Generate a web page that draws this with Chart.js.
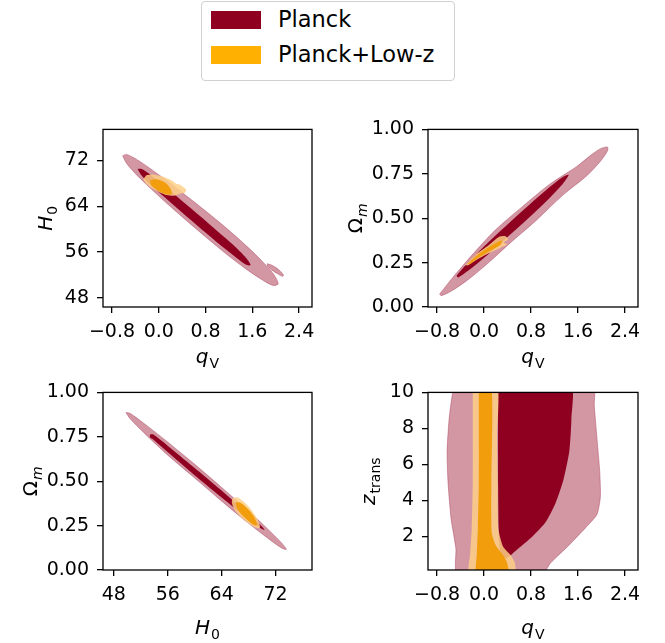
<!DOCTYPE html>
<html>
<head>
<meta charset="utf-8">
<script src="https://cdn.jsdelivr.net/npm/chart.js@4.4.1/dist/chart.umd.min.js"></script>
<style>
  body { margin: 0; background: #fff; width: 665px; height: 643px; position: relative; overflow: hidden; font-family: "DejaVu Sans", sans-serif; }
  canvas.panel { position: absolute; }
  #legend { position: absolute; left: 201px; top: 1px; width: 254px; height: 80px; border: 1px solid #d0d0d0; border-radius: 4px; box-sizing: border-box; }
  #legend .patch { position: absolute; left: 9px; width: 50px; height: 18px; }
  #legend .txt { position: absolute; left: 76px; font-size: 22.5px; line-height: 26px; white-space: nowrap; color: #000; }
</style>
</head>
<body>

<div id="legend">
  <div class="patch" id="patch0" style="top:9px"></div>
  <span class="txt" id="txt0" style="top:4px"></span>
  <div class="patch" id="patch1" style="top:44px"></div>
  <span class="txt" id="txt1" style="top:39px"></span>
</div>

<canvas id="c1" class="panel" width="330" height="269" style="left:0px;top:110px"></canvas>
<canvas id="c2" class="panel" width="335" height="269" style="left:330px;top:110px"></canvas>
<canvas id="c3" class="panel" width="330" height="269" style="left:0px;top:373px"></canvas>
<canvas id="c4" class="panel" width="335" height="269" style="left:330px;top:373px"></canvas>

<script>
// ------------------------------------------------------------------
// DATA: akser, ticks og konturer
// ------------------------------------------------------------------
var seriesNames = ['Planck', 'Planck+Low-z']

var qRange  = [-0.954, 2.62]
var h0Range = [46.4, 77.4]
var omRange = [0, 1]
var zRange  = [0.12, 10]

var qTicks  = [-0.8, 0.0, 0.8, 1.6, 2.4]
var h0Ticks = [48, 56, 64, 72]
var omTicks = [0, 0.25, 0.5, 0.75, 1]
var zTicks  = [2, 4, 6, 8, 10]

// panel 1: q_V vs H0
var qH0_planck95 = [[-0.618,72.82],[-0.549,73.03],[-0.378,72.16],[-0.150,70.59],[0.135,68.47],[0.476,65.77],[0.818,63.01],[1.160,60.13],[1.502,57.03],[1.787,54.18],[1.958,52.18],[2.043,50.45],
  [1.958,50.15],[1.787,51.02],[1.502,52.96],[1.160,55.61],[0.818,58.49],[0.476,61.47],[0.135,64.52],[-0.150,67.20],[-0.378,69.45],[-0.549,71.45]]
var qH0_planck95b = [[1.855,53.95],[1.929,53.72],[2.043,52.99],[2.129,52.03],[2.117,51.75],[2.043,52.14],[1.929,52.88],[1.861,53.55]]
var qH0_planck68 = [[-0.361,70.50],[-0.293,70.47],[-0.150,69.52],[0.135,67.16],[0.476,64.24],[0.818,61.28],[1.160,58.25],[1.388,56.10],[1.502,54.88],[1.570,53.72],
  [1.502,53.75],[1.388,54.52],[1.160,56.33],[0.818,59.24],[0.476,62.21],[0.135,65.24],[-0.150,67.83],[-0.293,69.34]]
var qH0_lowz95 = [[-0.264,68.69],[-0.207,69.43],[-0.094,69.54],[0.077,69.15],[0.220,68.53],[0.305,67.85],[0.362,67.73],[0.408,67.39],[0.465,66.94],[0.454,66.38],
  [0.362,66.15],[0.260,65.81],[0.135,65.93],[0.009,66.44],[-0.122,67.17],[-0.219,67.96]]
var qH0_lowz68 = [[-0.150,68.53],[-0.036,68.69],[0.106,68.13],[0.203,67.00],[0.220,66.15],[0.135,66.04],[0.009,66.59],[-0.122,67.56]]

// panel 2: q_V vs Omega_m
var qOm_planck95 = [[-0.756,0.073],[-0.497,0.180],[-0.152,0.312],[0.193,0.434],[0.652,0.565],[1.112,0.690],[1.572,0.790],[1.830,0.858],[1.974,0.890],[2.100,0.901],
  [2.100,0.879],[1.974,0.818],[1.744,0.738],[1.342,0.630],[0.882,0.486],[0.422,0.354],[0.078,0.250],[-0.267,0.155],[-0.555,0.090],[-0.727,0.064]]
var qOm_planck68 = [[-0.468,0.176],[-0.267,0.253],[0.078,0.366],[0.422,0.472],[0.767,0.575],[1.112,0.674],[1.342,0.732],[1.440,0.744],
  [1.342,0.694],[1.112,0.613],[0.767,0.504],[0.422,0.401],[0.078,0.299],[-0.267,0.205],[-0.440,0.166]]
var qOm_lowz95 = [[-0.325,0.235],[-0.152,0.293],[0.078,0.348],[0.250,0.394],[0.365,0.399],[0.411,0.381],[0.336,0.363],[0.394,0.352],[0.279,0.334],[0.078,0.302],[-0.152,0.260],[-0.267,0.235]]
var qOm_lowz68 = [[-0.279,0.242],[-0.095,0.297],[0.135,0.348],[0.307,0.374],[0.284,0.352],[0.078,0.312],[-0.124,0.271],[-0.238,0.242]]

// panel 3: H0 vs Omega_m
var h0Om_planck95 = [[49.80,0.887],[50.40,0.882],[52.39,0.828],[55.88,0.724],[59.88,0.599],[63.87,0.469],[67.86,0.336],[70.85,0.230],[72.85,0.154],[73.60,0.116],
  [72.85,0.125],[70.85,0.179],[67.86,0.267],[63.87,0.392],[59.88,0.522],[55.88,0.651],[52.39,0.776],[50.40,0.853]]
var h0Om_planck68 = [[53.39,0.764],[53.89,0.763],[56.88,0.672],[60.87,0.547],[64.87,0.418],[67.86,0.319],[69.86,0.249],[70.36,0.226],
  [69.86,0.234],[67.86,0.290],[64.87,0.382],[60.87,0.506],[56.88,0.635],[53.89,0.734],[53.39,0.746]]
var h0Om_lowz95 = [[65.61,0.403],[66.36,0.408],[67.86,0.363],[69.11,0.299],[69.71,0.244],[69.36,0.235],[68.36,0.253],[66.86,0.299],[65.86,0.344],[65.51,0.381]]
var h0Om_lowz68 = [[66.11,0.381],[66.86,0.377],[68.11,0.335],[68.96,0.289],[69.26,0.253],[68.76,0.253],[67.86,0.280],[66.86,0.317],[66.26,0.348]]

// panel 4: q_V vs z_trans
var qZ_planck95 = [[-0.497,10.5],[1.848,10.5],[1.876,9.24],[1.922,7.44],[1.968,5.64],[1.980,4.20],[1.922,3.21],[1.733,2.49],[1.445,1.50],[1.129,0.50],[0.986,-0.13],
  [-0.451,-0.13],[-0.480,1.32],[-0.560,2.94],[-0.612,4.92],[-0.629,6.72],[-0.595,8.52],[-0.537,9.96]]
var qZ_planck68 = [[0.239,10.5],[1.474,10.5],[1.486,8.52],[1.451,6.72],[1.348,5.10],[1.216,3.84],[1.043,2.76],[0.813,1.95],[0.555,1.23],[0.382,0.77],[0.296,0.86],[0.256,1.68],[0.239,4.92]]
var qZ_lowz95 = [[-0.193,10.5],[0.221,10.5],[0.221,7.62],[0.233,4.92],[0.244,2.40],[0.325,1.41],[0.451,0.95],[0.526,0.50],[0.520,-0.13],[-0.250,-0.13],[-0.238,0.95],[-0.210,2.40],[-0.193,4.92]]
var qZ_lowz68 = [[-0.089,10.5],[0.124,10.5],[0.124,4.92],[0.129,2.22],[0.198,1.50],[0.325,0.95],[0.394,0.50],[0.411,-0.13],[-0.124,-0.13],[-0.124,0.95],[-0.106,2.40],[-0.089,4.92]]

// farver
var planckDark  = 'rgb(143,0,32)'
var planckLight = 'rgb(211,150,163)'
var planckEdge  = 'rgba(165,60,90,0.55)'
var lowzDark    = 'rgb(242,158,12)'
var lowzLight   = 'rgba(253,207,135,0.85)'
var lowzLegend  = 'rgb(255,176,0)'

// ------------------------------------------------------------------
// LEGEND (HTML)
// ------------------------------------------------------------------
document.getElementById('patch0').style.background = planckDark
document.getElementById('patch1').style.background = lowzLegend
document.getElementById('txt0').textContent = seriesNames[0]
document.getElementById('txt1').textContent = seriesNames[1]

// ------------------------------------------------------------------
// HJÆLPERE
// ------------------------------------------------------------------
var tickFont = { family: 'DejaVu Sans', size: 19 }

function fmtQ(v) { var s = Math.abs(v).toFixed(1); return v < 0 ? '\u2212' + s : s }
function fmtInt(v) { return String(Math.round(v)) }
function fmtOm(v) { return v.toFixed(2) }

// lukket kontur -> dataset med fill 'shape'
function contour(pts, color, edge, tension) {
  var data = pts.map(p => ({ x: p[0], y: p[1] }))
  data.push({ x: pts[0][0], y: pts[0][1] })
  return {
    data: data,
    showLine: true,
    fill: 'shape',
    backgroundColor: color,
    borderColor: edge || 'rgba(0,0,0,0)',
    borderWidth: edge ? 0.8 : 0,
    pointRadius: 0,
    tension: tension
  }
}

// tegner label med (evt.) subscript
function drawLabel(ctx, lab, cx, cy, rot) {
  var size = 20, subSize = 14
  var f1 = (lab.mainItalic ? 'italic ' : '') + size + 'px "DejaVu Sans"'
  var f2 = (lab.subItalic ? 'italic ' : '') + subSize + 'px "DejaVu Sans"'
  ctx.font = f1
  var w1 = ctx.measureText(lab.main).width
  ctx.font = f2
  var w2 = ctx.measureText(lab.sub).width
  ctx.save()
  ctx.translate(cx, cy)
  ctx.rotate(rot)
  ctx.fillStyle = '#000'
  ctx.textBaseline = 'alphabetic'
  ctx.textAlign = 'left'
  var x0 = -(w1 + w2 + 1) / 2
  ctx.font = f1
  ctx.fillText(lab.main, x0, 0)
  ctx.font = f2
  ctx.fillText(lab.sub, x0 + w1 + 1, 4.5)
  ctx.restore()
}

// ramme + aksetitler
var axisTitles = {
  id: 'axisTitles',
  afterDraw(chart) {
    var o = chart.options.plugins.axisTitles
    var a = chart.chartArea
    var ctx = chart.ctx
    ctx.save()
    ctx.strokeStyle = '#000'
    ctx.lineWidth = 1.3
    ctx.strokeRect(a.left, a.top, a.right - a.left, a.bottom - a.top)
    ctx.restore()
    drawLabel(ctx, o.x, (a.left + a.right) / 2, a.bottom + o.xOff, 0)
    drawLabel(ctx, o.y, o.yPos, (a.top + a.bottom) / 2, -Math.PI / 2)
  }
}

function axis(range, ticks, fmt, isX, fitSize) {
  return {
    type: 'linear',
    min: range[0],
    max: range[1],
    afterBuildTicks: s => { s.ticks = ticks.map(v => ({ value: v })) },
    afterFit: s => { if (isX) s.height = fitSize; else s.width = fitSize },
    ticks: { callback: v => fmt(v), autoSkip: false, maxRotation: 0, minRotation: 0, font: tickFont, color: '#000', padding: isX ? 8 : 8 },
    grid: { drawOnChartArea: false, drawTicks: true, tickLength: 6, color: '#000', lineWidth: 1.3 },
    border: { display: false }
  }
}

function makePanel(id, xAx, yAx, layers, xLab, yLab, yPos, yWidth, padRight, xOff) {
  var datasets = layers.map((l, i) => {
    var d = contour(l[0], l[1], l[2], l[3])
    d.order = -i   // senere lag tegnes ovenpå
    return d
  })
  return new Chart(document.getElementById(id), {
    type: 'scatter',
    data: { datasets: datasets },
    plugins: [axisTitles],
    options: {
      responsive: false,
      animation: false,
      events: [],
      layout: { padding: { top: 14, right: padRight, left: 0, bottom: 0 } },
      plugins: {
        legend: { display: false },
        tooltip: { enabled: false },
        axisTitles: { x: xLab, y: yLab, yPos: yPos, xOff: xOff }
      },
      scales: {
        x: axis(xAx[0], xAx[1], xAx[2], true, 72),
        y: axis(yAx[0], yAx[1], yAx[2], false, yWidth)
      }
    }
  })
}

var labQ  = { main: 'q', mainItalic: true, sub: 'V', subItalic: false }
var labH0 = { main: 'H', mainItalic: true, sub: '0', subItalic: false }
var labOm = { main: '\u03A9', mainItalic: false, sub: 'm', subItalic: true }
var labZ  = { main: 'z', mainItalic: true, sub: 'trans', subItalic: false }

var qAx  = [qRange, qTicks, fmtQ]
var h0Ax = [h0Range, h0Ticks, fmtInt]
var omAx = [omRange, omTicks, fmtOm]
var zAx  = [zRange, zTicks, fmtInt]

makePanel('c1', qAx, h0Ax, [
  [qH0_planck95, planckLight, planckEdge, 0.3],
  [qH0_planck95b, planckLight, planckEdge, 0.3],
  [qH0_planck68, planckDark, null, 0.3],
  [qH0_lowz95, lowzLight, null, 0.2],
  [qH0_lowz68, lowzDark, null, 0.3]
], labQ, labH0, 52, 103, 18, 56)

makePanel('c2', qAx, omAx, [
  [qOm_planck95, planckLight, planckEdge, 0.3],
  [qOm_planck68, planckDark, null, 0.3],
  [qOm_lowz95, lowzLight, null, 0.2],
  [qOm_lowz68, lowzDark, null, 0.3]
], labQ, labOm, 32, 98, 27, 56)

makePanel('c3', h0Ax, omAx, [
  [h0Om_planck95, planckLight, planckEdge, 0.3],
  [h0Om_planck68, planckDark, null, 0.3],
  [h0Om_lowz95, lowzLight, null, 0.3],
  [h0Om_lowz68, lowzDark, null, 0.3]
], labH0, labOm, 37, 103, 18, 64)

makePanel('c4', qAx, zAx, [
  [qZ_planck95, planckLight, planckEdge, 0.2],
  [qZ_planck68, planckDark, null, 0.2],
  [qZ_lowz95, lowzLight, null, 0.2],
  [qZ_lowz68, lowzDark, null, 0.2]
], labQ, labZ, 45, 98, 27, 64)
</script>
</body>
</html>
